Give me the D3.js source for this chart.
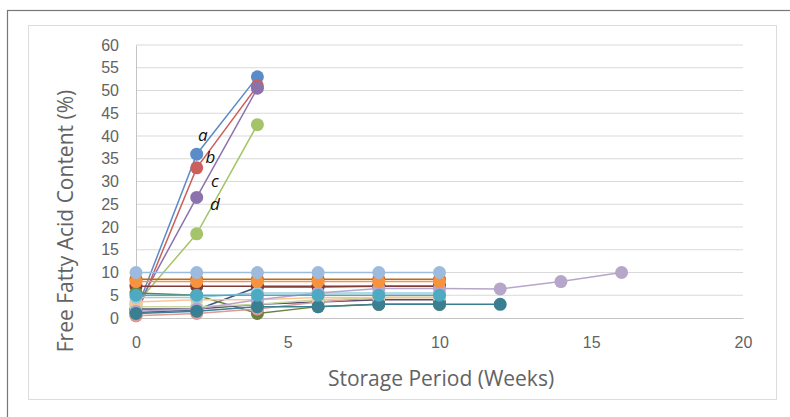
<!DOCTYPE html>
<html>
<head>
<meta charset="utf-8">
<script src="https://cdn.jsdelivr.net/npm/d3@7"></script>
<style>
  body { margin: 0; background: #fff; }
  svg { display: block; font-family: "Open Sans", "Noto Sans", sans-serif; }
</style>
</head>
<body>
<div id="chart"></div>
<script>
// Storage weeks (x positions shared by all series)
const weeks = [0, 2, 4, 6, 8, 10, 12, 14, 16];

// Free fatty acid content (%) per series
const seriesA = [1.5, 36, 53];
const seriesB = [0.5, 33, 51];
const seriesD = [3, 18.5, 42.5];
const seriesC = [2, 26.5, 50.5];
const seriesTeal = [5, 5, 5, 5, 5, 5];
const seriesOrange = [8, 8, 8, 8, 8, 8];
const seriesNavy = [1.2, 1.8, 6.8, 6.8, 7, 7];
const seriesMaroon = [7, 7, 7, 7, 7, 7];
const seriesOlive = [5.5, 5, 1, 2.5, 3, 3];
const seriesPlum = [2, 2, 3, 3.5, 4, 4];
const seriesDarkTeal = [1, 1.5, 2.5, 2.5, 3, 3, 3];
const seriesRust = [8.5, 8.5, 8.5, 8.5, 8.5, 8.5];
const seriesLightBlue = [10, 10, 10, 10, 10, 10];
const seriesPink = [0.5, 1, 2, 3.5, 4.5, 4.5];
const seriesLightGreen = [2.5, 2.5, 3, 4, 4.5, 4.5];
const seriesLilac = [1.5, 2, 4, 5.5, 6.5, 6.5, 6.4, 8, 10];
const seriesSky = [4.5, 4.5, 5.5, 5.5, 5.5, 5.5];
const seriesPeach = [3.5, 4, 4, 4.5, 4.5, 4.5];

// Excel 2010 default series colours, drawn in this order
const seriesList = [
  { values: seriesA, color: "#5b8bc9" },
  { values: seriesB, color: "#cc5f5c" },
  { values: seriesD, color: "#a5c46a" },
  { values: seriesC, color: "#8c72ad" },
  { values: seriesNavy, color: "#3a5a82" },
  { values: seriesMaroon, color: "#843a37" },
  { values: seriesOlive, color: "#6a823c" },
  { values: seriesPlum, color: "#5a4870" },
  { values: seriesRust, color: "#c2661a" },
  { values: seriesPink, color: "#dc9a98" },
  { values: seriesLightGreen, color: "#c6d9a0" },
  { values: seriesPeach, color: "#fac595" },
  { values: seriesSky, color: "#98d0df" },
  { values: seriesLilac, color: "#b6a6ca" },
  { values: seriesDarkTeal, color: "#3a7f91" },
  { values: seriesTeal, color: "#4ea9c2" },
  { values: seriesOrange, color: "#f7923e" },
  { values: seriesLightBlue, color: "#9dbbde" }
];

// Point labels on the rising series
const pointLabels = [
  { text: "a", week: 2.2, value: 39 },
  { text: "b", week: 2.45, value: 34 },
  { text: "c", week: 2.6, value: 28.8 },
  { text: "d", week: 2.6, value: 23.8 }
];

const xTicks = [0, 5, 10, 15, 20];
const yTicks = [0, 5, 10, 15, 20, 25, 30, 35, 40, 45, 50, 55, 60];

const W = 790, H = 417;
const plot = { left: 136, right: 743, top: 45, bottom: 318 };
const textColor = "#636363";

const svg = d3.select("#chart")
  .append("svg")
  .attr("width", W)
  .attr("height", H);

svg.append("rect").attr("width", W).attr("height", H).attr("fill", "#fff");

// Outer frame and inner chart border
svg.append("rect")
  .attr("x", 7.5).attr("y", 10.5)
  .attr("width", 800).attr("height", 420)
  .attr("fill", "none").attr("stroke", "#777").attr("stroke-width", 1.2);
svg.append("rect")
  .attr("x", 28.5).attr("y", 25.5)
  .attr("width", 748).attr("height", 374)
  .attr("fill", "none").attr("stroke", "#dcdcdc");

const x = d3.scaleLinear().domain([0, 20]).range([plot.left, plot.right]);
const y = d3.scaleLinear().domain([0, 60]).range([plot.bottom, plot.top]);

// Horizontal gridlines
svg.append("g")
  .selectAll("line")
  .data(yTicks.filter((d) => d > 0))
  .join("line")
  .attr("x1", plot.left).attr("x2", plot.right)
  .attr("y1", (d) => y(d)).attr("y2", (d) => y(d))
  .attr("stroke", "#d9d9d9");

// Y axis
const yAxis = svg.append("g")
  .attr("transform", `translate(${plot.left},0)`)
  .call(d3.axisLeft(y).tickValues(yTicks).tickSize(0).tickPadding(17));
yAxis.select(".domain").attr("stroke", "#c4c4c4");
yAxis.selectAll("text")
  .style("font-size", "16px")
  .attr("fill", textColor);

// X axis
const xAxis = svg.append("g")
  .attr("transform", `translate(0,${plot.bottom})`)
  .call(d3.axisBottom(x).tickValues(xTicks).tickSize(0).tickPadding(19));
xAxis.select(".domain").attr("stroke", "#c4c4c4");
xAxis.selectAll("text")
  .style("font-size", "16px")
  .attr("fill", textColor);

// Lines and markers
const line = d3.line()
  .x((d) => x(d.week))
  .y((d) => y(d.value));

seriesList.forEach((s) => {
  const pts = s.values.map((v, i) => ({ week: weeks[i], value: v }));
  const g = svg.append("g");
  g.append("path")
    .datum(pts)
    .attr("fill", "none")
    .attr("stroke", s.color)
    .attr("stroke-width", 1.5)
    .attr("d", line);
  g.selectAll("circle")
    .data(pts)
    .join("circle")
    .attr("cx", (d) => x(d.week))
    .attr("cy", (d) => y(d.value))
    .attr("r", 6.5)
    .attr("fill", s.color);
});

// a, b, c, d labels
svg.append("g")
  .selectAll("text")
  .data(pointLabels)
  .join("text")
  .attr("x", (d) => x(d.week))
  .attr("y", (d) => y(d.value))
  .attr("text-anchor", "middle")
  .style("font-size", "17px")
  .style("font-style", "italic")
  .attr("fill", "#111")
  .text((d) => d.text);

// Axis titles
svg.append("text")
  .attr("x", 441)
  .attr("y", 386)
  .attr("text-anchor", "middle")
  .style("font-size", "21px")
  .attr("fill", textColor)
  .text("Storage Period (Weeks)");

svg.append("text")
  .attr("transform", "rotate(-90)")
  .attr("x", -221)
  .attr("y", 73)
  .attr("text-anchor", "middle")
  .style("font-size", "21px")
  .attr("fill", textColor)
  .text("Free Fatty Acid Content (%)");
</script>
</body>
</html>
